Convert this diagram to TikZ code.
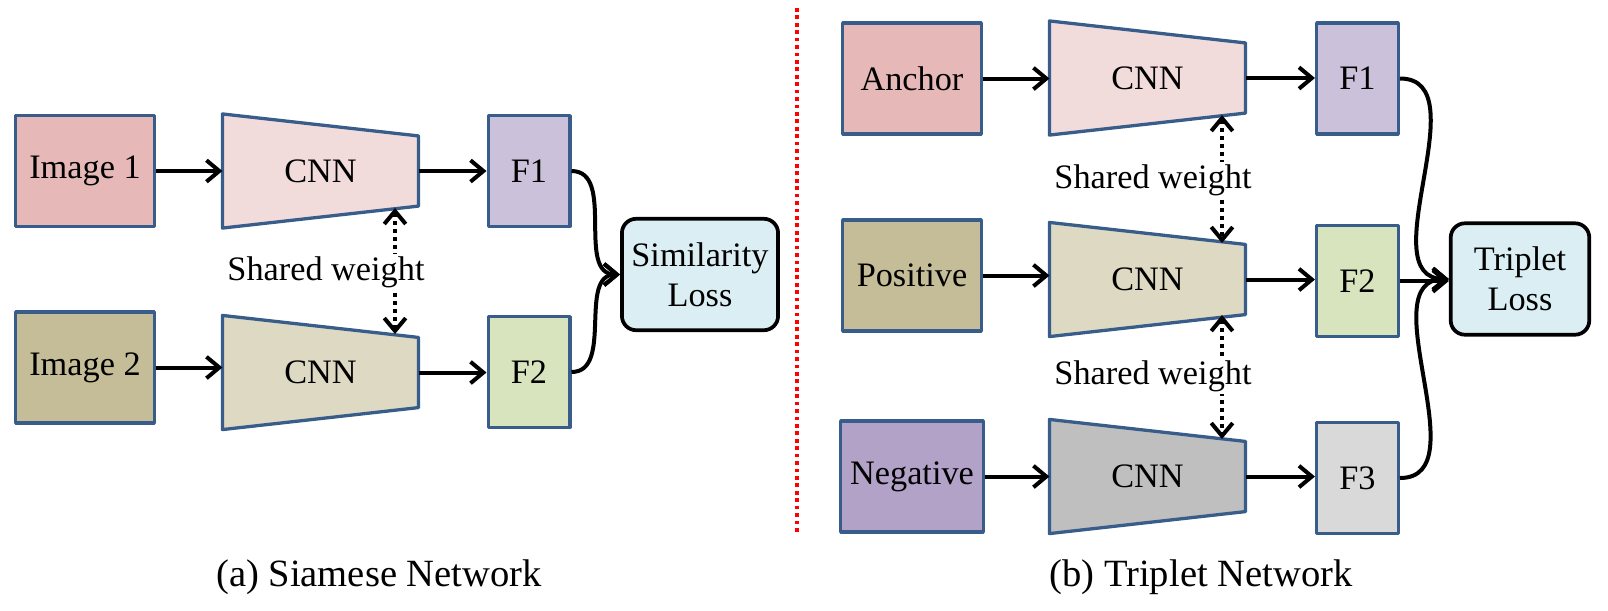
\documentclass[tikz,border=0pt]{standalone}
\usepackage{fontspec}
\setmainfont{Liberation Serif}
\usetikzlibrary{arrows.meta,backgrounds}

\definecolor{edgeblue}{RGB}{56,93,138}
\definecolor{inpink}{RGB}{230,185,184}
\definecolor{intan}{RGB}{196,189,151}
\definecolor{inpurple}{RGB}{179,162,199}
\definecolor{cnnpink}{RGB}{242,220,219}
\definecolor{cnntan}{RGB}{221,217,195}
\definecolor{cnngray}{RGB}{191,191,191}
\definecolor{flav}{RGB}{204,193,218}
\definecolor{fgreen}{RGB}{215,228,189}
\definecolor{fgray}{RGB}{217,217,217}
\definecolor{lossblue}{RGB}{219,238,244}

\begin{document}
\begin{tikzpicture}[x=0.35pt,y=-0.35pt,>={Straight Barb[length=4.5pt,width=7.5pt]}]
		\tikzstyle{txt}=[font=\fontsize{12}{14}\selectfont]
		\tikzstyle{inbox}=[txt,draw=edgeblue,line width=1.15pt,line join=round,minimum width=48.5pt,minimum height=38.8pt]
		\tikzstyle{fbox}=[txt,draw=edgeblue,line width=1.15pt,line join=round,minimum width=28.6pt,minimum height=38.8pt]
		\tikzstyle{cnnbox}=[txt,draw=none,line width=1.15pt,minimum width=67.5pt,minimum height=38.8pt]
		\tikzstyle{lossbox}=[txt,draw=black,line width=1.3pt,fill=lossblue,rounded corners=5pt,align=center,minimum width=48.5pt,minimum height=39pt]
		\tikzstyle{arrow}=[->,line width=1.4pt]
		\tikzstyle{shared}=[<->,line width=1.4pt,dash pattern=on 1.4pt off 1.4pt]
		\tikzstyle{sharedlabel}=[txt,fill=white,inner sep=1pt]
		\tikzstyle{caption}=[font=\fontsize{13.5}{16}\selectfont]
		
		\useasboundingbox (0,0) rectangle (1608,610);
		
		% (a) siamese
		\node (img1) at (85,171) [inbox, fill=inpink] {Image 1};
		\node (img2) at (85,367.5) [inbox, fill=intan] {Image 2};
		\node (cnnA) at (320.5,171) [cnnbox] {CNN};
		\node (cnnB) at (320.5,372.5) [cnnbox] {CNN};
		\node (f1A) at (529,171) [fbox, fill=flav] {F1};
		\node (f2A) at (529,372) [fbox, fill=fgreen] {F2};
		\node (sim) at (700,274.5) [lossbox, minimum width=53.5pt] {Similarity\\Loss};
		
		% (b) triplet
		\node (anc) at (912,78.5) [inbox, fill=inpink] {Anchor};
		\node (pos) at (912,275.5) [inbox, fill=intan] {Positive};
		\node (neg) at (912,476.5) [inbox, fill=inpurple] {Negative};
		\node (cnnC) at (1147.5,78) [cnnbox] {CNN};
		\node (cnnD) at (1147.5,279.5) [cnnbox] {CNN};
		\node (cnnE) at (1147.5,476.5) [cnnbox] {CNN};
		\node (f1B) at (1357.5,78.5) [fbox, fill=flav] {F1};
		\node (f2B) at (1357.5,281) [fbox, fill=fgreen] {F2};
		\node (f3B) at (1357.5,478) [fbox, fill=fgray] {F3};
		\node (tri) at (1520,279) [lossbox] {Triplet\\Loss};
		
		\begin{scope}[on background layer]
		\foreach \n/\c in {cnnA/cnnpink,cnnB/cnntan,cnnC/cnnpink,cnnD/cnntan,cnnE/cnngray}
			\filldraw[draw=edgeblue,line width=1.15pt,line join=round,fill=\c] (\n.north west) -- ([yshift=-7.7pt]\n.north east)
				-- ([yshift=7.7pt]\n.south east) -- (\n.south west) -- cycle;
		\end{scope}
		
		\foreach \a/\b in {img1/cnnA,img2/cnnB,cnnA/f1A,cnnB/f2A,anc/cnnC,pos/cnnD,neg/cnnE,cnnC/f1B,cnnD/f2B,cnnE/f3B,f2B/tri}
			\draw[arrow] (\a.east) -- (\a.east -| \b.west);
		
		\draw[arrow] (f1A.east) to[out=0,in=180] (sim.west);
		\draw[arrow] (f2A.east) to[out=0,in=180] (sim.west);
		\draw[arrow] (f1B.east) to[out=0,in=180] (tri.west);
		\draw[arrow] (f3B.east) to[out=0,in=180] (tri.west);
		
		% shared weights
		\coordinate (wA1) at (395,208);
		\coordinate (wA2) at (395,334);
		\coordinate (wC1) at (1222,115);
		\coordinate (wC2) at (1222,243);
		\coordinate (wD1) at (1222,315);
		\coordinate (wD2) at (1222,439);
		\draw[shared] (wA1) -- (wA2);
		\draw[shared] (wC1) -- (wC2);
		\draw[shared] (wD1) -- (wD2);
		\node (swA) at (326,272) [sharedlabel] {Shared weight};
		\node (swC) at (1153,180) [sharedlabel] {Shared weight};
		\node (swD) at (1153,376) [sharedlabel] {Shared weight};
		
		\draw[red, line width=1.1pt, dash pattern=on 1.3pt off 1.3pt] (797,8) -- (797,535);
		
		\node (capA) at (379,577) [caption] {(a) Siamese Network};
		\node (capB) at (1201,577) [caption] {(b) Triplet Network};
		
\end{tikzpicture}
\end{document}
